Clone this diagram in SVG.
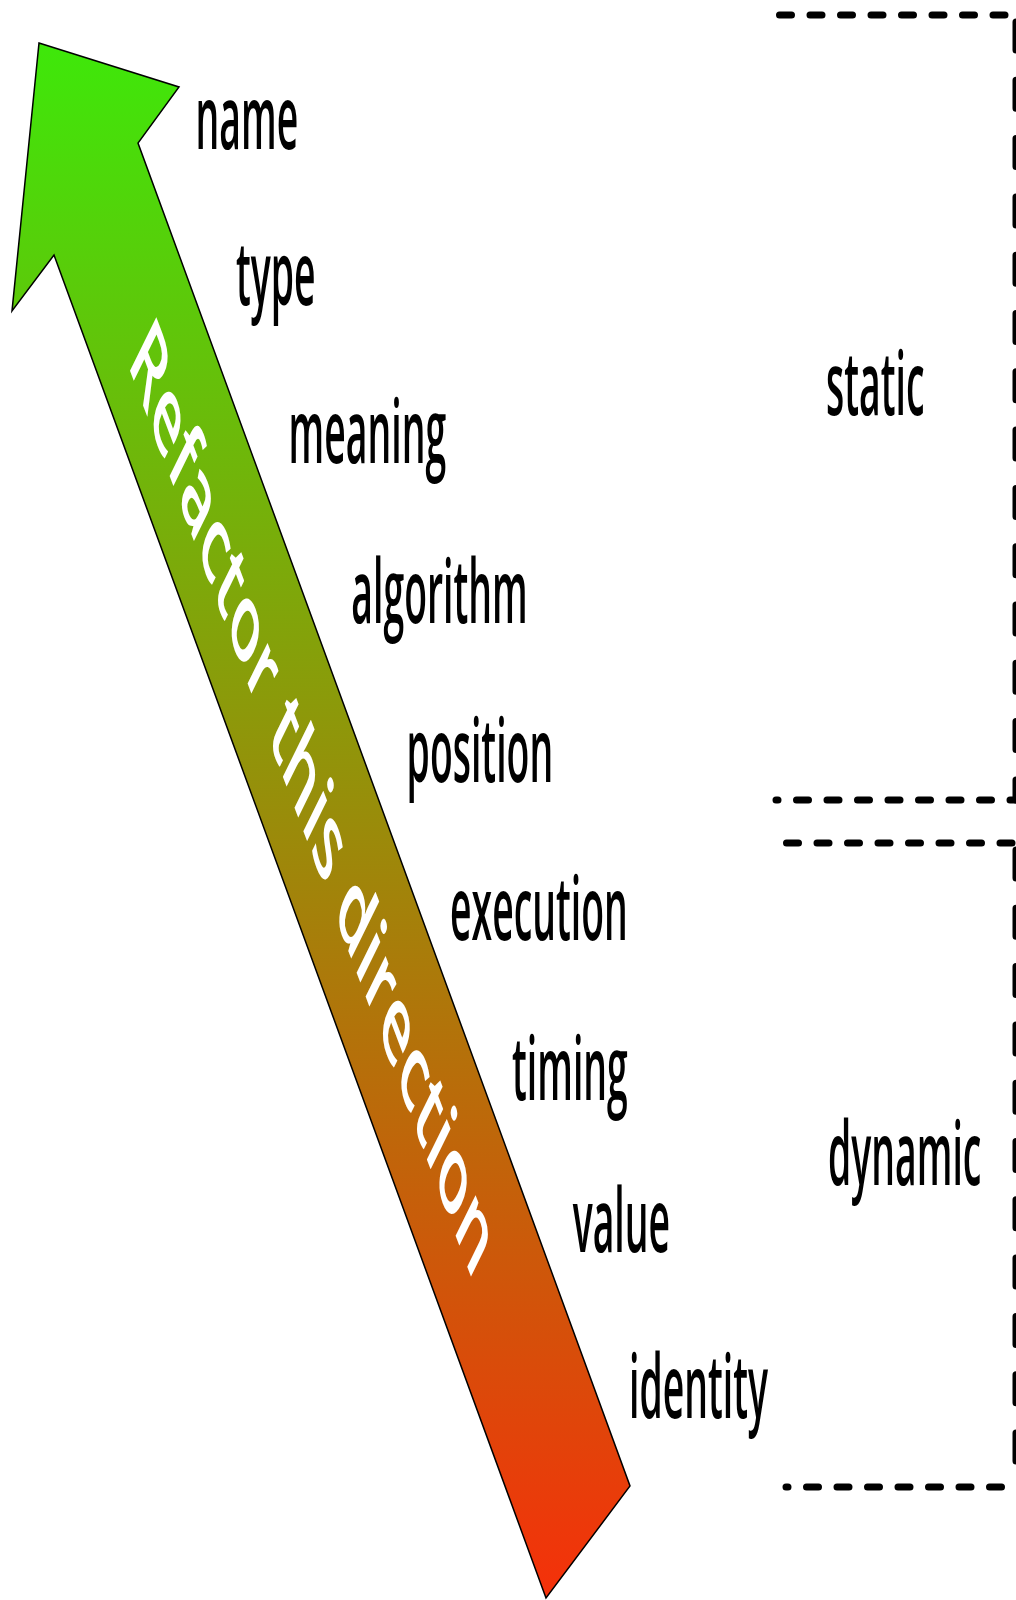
<svg xmlns="http://www.w3.org/2000/svg" width="1016" height="1600" viewBox="0 0 1016 1600">
  <style>
    .lbl { font-family: "Open Sans", "DejaVu Sans", sans-serif; font-size: 88px; font-weight: 600; fill: #000; }
    .arrowtxt { font-family: "Open Sans", "DejaVu Sans", sans-serif; font-size: 114px; font-weight: 600; fill: #fff; }
    .hd { fill: none; stroke: #000; stroke-width: 7; stroke-linecap: round; stroke-dasharray: 12 18.5; }
    .vd { fill: none; stroke: #000; stroke-width: 7; stroke-linecap: round; stroke-dasharray: 28 30.3; }
  </style>
  <defs>
    <linearGradient id="grad" gradientUnits="userSpaceOnUse" x1="0" y1="43" x2="0" y2="1598">
      <stop offset="0" stop-color="#3ee80a"/>
      <stop offset="1" stop-color="#f5300a"/>
    </linearGradient>
  </defs>
  <rect width="1016" height="1600" fill="#fff"/>

  <g id="arrow">
    <polygon points="39,43 179,87 138,143 630,1486 546,1598 54,255 12,311" fill="url(#grad)" stroke="#000" stroke-width="1.5" stroke-linejoin="miter"/>
    <text class="arrowtxt" text-anchor="middle" transform="scale(0.43,1) translate(729,796) rotate(48.8)" x="0" y="41">Refactor this direction</text>
  </g>

  <g id="labels">
    <g id="n-name"><text class="lbl" transform="matrix(0.425 0 0 1 195.6 149)">name</text></g>
    <g id="n-type"><text class="lbl" transform="matrix(0.425 0 0 1 236 305)">type</text></g>
    <g id="n-meaning"><text class="lbl" transform="matrix(0.425 0 0 1 288.6 463)">meaning</text></g>
    <g id="n-algorithm"><text class="lbl" transform="matrix(0.425 0 0 1 351.3 623)">algorithm</text></g>
    <g id="n-position"><text class="lbl" transform="matrix(0.425 0 0 1 406.6 782)">position</text></g>
    <g id="n-execution"><text class="lbl" transform="matrix(0.425 0 0 1 450 940)">execution</text></g>
    <g id="n-timing"><text class="lbl" transform="matrix(0.425 0 0 1 512 1100)">timing</text></g>
    <g id="n-value"><text class="lbl" transform="matrix(0.425 0 0 1 572.7 1252)">value</text></g>
    <g id="n-identity"><text class="lbl" transform="matrix(0.425 0 0 1 629 1418)">identity</text></g>
  </g>

  <g id="brackets">
    <g id="static">
      <path class="hd" d="M779.5,15 H1010"/>
      <path class="vd" d="M1016,22 V800"/>
      <path class="hd" d="M776,800 H1016" stroke-dashoffset="10"/>
      <text class="lbl" transform="matrix(0.425 0 0 1 826 415)">static</text>
    </g>
    <g id="dynamic">
      <path class="hd" d="M786.5,843 H1016"/>
      <path class="vd" d="M1016,850 V1487"/>
      <path class="hd" d="M786,1487 H1010" stroke-dashoffset="10"/>
      <text class="lbl" transform="matrix(0.425 0 0 1 828 1185)">dynamic</text>
    </g>
  </g>
</svg>
